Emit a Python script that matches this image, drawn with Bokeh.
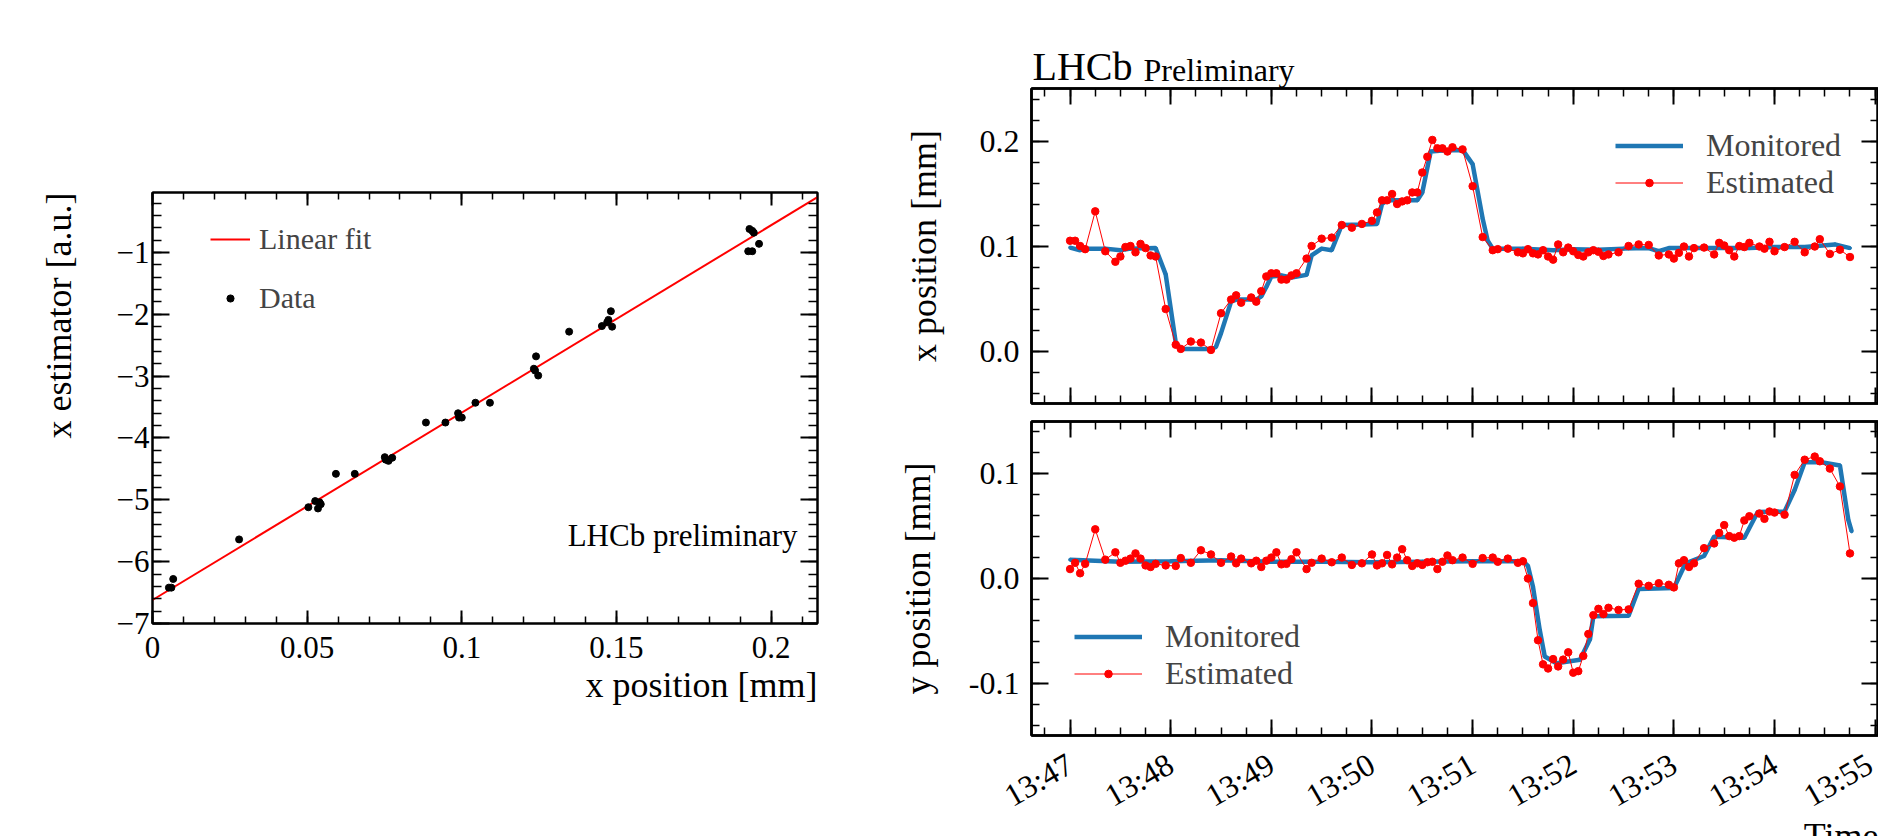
import math
import pandas as pd
from bokeh.plotting import figure
from bokeh.layouts import row, column
from bokeh.models import (Range1d, LinearAxis, FixedTicker, CustomJSTickFormatter,
                          Legend, LegendItem, Label, Title)
from bokeh.embed import file_html
from bokeh.resources import INLINE

FONT = "Liberation Serif"

# ---------------- left panel: calibration ----------------
calib_xpos = [0.0053, 0.0061, 0.0067, 0.028, 0.0504, 0.0526, 0.054, 0.0535, 0.0544,
              0.0593, 0.0654, 0.0751, 0.0754, 0.0763, 0.0775, 0.0884, 0.0947, 0.0988,
              0.0991, 0.100, 0.1044, 0.1091, 0.1233, 0.124, 0.1247, 0.1237, 0.1347,
              0.1453, 0.147, 0.1474, 0.1482, 0.1486, 0.193, 0.1939, 0.1944, 0.1926,
              0.1939, 0.1961]
calib_xest = [-6.42, -6.42, -6.28, -5.64, -5.12, -5.02, -5.04, -5.14, -5.07,
              -4.58, -4.58, -4.31, -4.35, -4.37, -4.32, -3.75, -3.75, -3.60,
              -3.67, -3.67, -3.43, -3.43, -2.88, -2.68, -2.99, -2.91, -2.28,
              -2.19, -2.13, -2.09, -1.95, -2.20, -0.62, -0.65, -0.68, -0.98,
              -0.98, -0.86]
fit_slope = 30.3
fit_intercept = -6.62
left_x_ticks = [0, 0.05, 0.1, 0.15, 0.2]
left_y_ticks = [-7, -6, -5, -4, -3, -2, -1]

# ---------------- right panels: time series ----------------
t0 = "2024-01-01 13:47:00"
time_tick_labels = ["13:47", "13:48", "13:49", "13:50", "13:51", "13:52", "13:53", "13:54", "13:55"]

# seconds after 13:47:00
est_t = [0, 3, 6, 9, 15, 21, 27, 30, 33, 36, 39, 42, 45, 48, 51, 57, 63, 66, 72, 78, 84, 90,
         96, 99, 102, 108, 111, 114, 117, 120, 123, 126, 129, 132, 135, 141, 144, 150,
         156, 162, 168, 174, 180, 183, 186, 189, 192, 195, 198, 201, 204, 207, 210, 213,
         216, 219, 222, 225, 228, 234, 240, 246, 252, 255, 261, 267, 270, 273, 276, 279,
         282, 285, 288, 291, 294, 297, 300, 303, 306,
         309, 312, 315, 318, 321, 327, 333, 339, 345, 351, 357, 360, 363, 366, 369, 372,
         378, 384, 387, 390, 393, 396, 399, 402, 405, 411, 414, 417, 420, 426, 432, 438,
         444, 447, 453, 459, 465]
est_x = [0.105, 0.105, 0.100, 0.097, 0.133, 0.095, 0.085, 0.090, 0.099, 0.100, 0.094, 0.102,
         0.098, 0.091, 0.090, 0.040, 0.006, 0.002, 0.009, 0.008, 0.001, 0.036, 0.049, 0.053,
         0.046, 0.051, 0.047, 0.057, 0.071, 0.074, 0.074, 0.068, 0.068, 0.072, 0.074, 0.088,
         0.100, 0.107,
         0.108, 0.120, 0.1175, 0.121, 0.124, 0.132, 0.1435, 0.1435, 0.1495, 0.140, 0.1425,
         0.1435, 0.151, 0.151, 0.170, 0.185, 0.201, 0.193, 0.193, 0.190, 0.194, 0.192, 0.157,
         0.1085, 0.096, 0.097, 0.0975, 0.094, 0.093, 0.097, 0.093, 0.092, 0.096, 0.090, 0.087,
         0.1015, 0.094, 0.0985, 0.095, 0.0915, 0.090,
         0.094, 0.096, 0.0945, 0.0905, 0.092, 0.094, 0.100, 0.1015, 0.101, 0.091, 0.092, 0.088,
         0.0935, 0.0995, 0.090, 0.098, 0.0985, 0.092, 0.103, 0.1005, 0.096, 0.090, 0.100, 0.099,
         0.103, 0.0995, 0.0975, 0.104, 0.095, 0.099, 0.104, 0.094, 0.0995, 0.1065, 0.0925,
         0.0965, 0.0895]
est_y = [0.009, 0.015, 0.005, 0.014, 0.047, 0.018, 0.025, 0.015, 0.017, 0.019, 0.024, 0.019,
         0.0125, 0.011, 0.014, 0.0125, 0.012, 0.0195, 0.015, 0.027, 0.023, 0.015, 0.021, 0.0145,
         0.019, 0.0145, 0.017, 0.011, 0.017, 0.020, 0.025, 0.0135, 0.014, 0.0185, 0.025, 0.009,
         0.015, 0.019,
         0.0155, 0.020, 0.013, 0.0145, 0.023, 0.0125, 0.0145, 0.0225, 0.0135, 0.020, 0.028,
         0.0175, 0.012, 0.0145, 0.013, 0.0155, 0.016, 0.009, 0.016, 0.022, 0.0175, 0.020, 0.014,
         0.0195, 0.020, 0.016, 0.019, 0.015, 0.0165, 0.000, -0.0235, -0.059, -0.082, -0.086,
         -0.077, -0.084, -0.0775, -0.0705, -0.090, -0.0885, -0.074,
         -0.053, -0.035, -0.029, -0.034, -0.028, -0.030, -0.0295, -0.005, -0.007, -0.0045,
         -0.006, -0.0085, 0.0145, 0.0175, 0.011, 0.0145, 0.029, 0.0335, 0.0435, 0.051, 0.0405,
         0.039, 0.0405, 0.0555, 0.0595, 0.062, 0.057, 0.064, 0.063, 0.061, 0.099, 0.1135,
         0.1165, 0.112, 0.105, 0.088, 0.024]

mon_x_t = [0, 6, 9, 21, 30, 36, 51, 57, 63, 66, 84, 87, 90, 96, 99, 111, 114, 117, 120, 126,
           132, 141, 144, 150, 156, 162, 174, 183, 186, 189, 207, 210, 215, 222, 234, 240,
           246, 249, 252, 270, 288, 300, 315, 330, 345, 351, 357, 375, 405, 420, 438, 456, 465]
mon_x = [0.0985, 0.096, 0.0975, 0.0975, 0.096, 0.0975, 0.098, 0.073, 0.008, 0.002,
         0.002, 0.004, 0.017, 0.047, 0.049, 0.049, 0.052, 0.061, 0.071, 0.072,
         0.070, 0.0725, 0.091, 0.0975, 0.096, 0.120, 0.1205, 0.121, 0.140, 0.1435,
         0.1435, 0.151, 0.190, 0.191, 0.1915, 0.178, 0.126, 0.105, 0.0975, 0.0975,
         0.096, 0.097, 0.0965, 0.0975, 0.098, 0.095, 0.098, 0.098, 0.098, 0.099,
         0.099, 0.1015, 0.098]
mon_y_t = [0, 30, 60, 90, 120, 150, 180, 210, 240, 270, 273, 276, 280, 283, 290, 304, 310,
           312, 333, 339, 360, 367, 378, 384, 402, 410, 426, 432, 438, 448, 459, 464, 466]
mon_y = [0.018, 0.016, 0.0165, 0.0175, 0.016, 0.016, 0.0155, 0.016, 0.0165, 0.0165,
         0.012, -0.008, -0.049, -0.0745, -0.081, -0.0776, -0.058, -0.036, -0.0355, -0.010,
         -0.009, 0.0145, 0.0215, 0.040, 0.039, 0.0635, 0.064, 0.0845, 0.111, 0.111,
         0.108, 0.056, 0.045]

BLUE = "#1f77b4"
RED = "#ff0000"


def style_axis(ax, major_in, minor_in, fs="32px", hide=False, lw=2, standoff=5):
    ax.major_tick_in = major_in
    ax.major_tick_out = 0
    ax.minor_tick_in = minor_in
    ax.minor_tick_out = 0
    ax.axis_line_width = lw
    ax.axis_line_color = "black"
    ax.major_tick_line_width = 2
    ax.minor_tick_line_width = 1.5
    ax.major_tick_line_color = "black"
    ax.minor_tick_line_color = "black"
    ax.major_label_text_font = FONT
    ax.major_label_text_font_size = fs
    ax.major_label_text_color = "black"
    ax.major_label_standoff = standoff
    if hide:
        ax.formatter = CustomJSTickFormatter(code="return ''")
        ax.major_label_text_font_size = "0px"
        ax.major_label_standoff = 0


def title(text, align, size="36px", standoff=10, offset=0):
    return Title(text=text, align=align, text_font=FONT, text_font_size=size,
                 text_font_style="normal", text_color="black", standoff=standoff,
                 offset=offset)


LEFT_W = 868
RIGHT_W = 1878 - LEFT_W
RIGHT_BORDER = 1027 - LEFT_W

# ---------------- left figure ----------------
xr_l = Range1d(0, 0.215)
yr_l = Range1d(-7, -0.03)
p1 = figure(width=LEFT_W, height=836, output_backend="svg", toolbar_location=None,
            x_range=xr_l, y_range=yr_l,
            min_border_left=152, min_border_right=LEFT_W - 817, min_border_top=192,
            min_border_bottom=213)
p1.grid.visible = False
p1.outline_line_color = "black"
p1.outline_line_width = 2

lx_minor = [i * 0.01 for i in range(0, 22)]
ly_minor = [-7 + i * 0.2 for i in range(0, 35)]
p1.xaxis[0].ticker = FixedTicker(ticks=left_x_ticks, minor_ticks=lx_minor)
p1.yaxis[0].ticker = FixedTicker(ticks=left_y_ticks, minor_ticks=ly_minor)
p1.xaxis[0].formatter = CustomJSTickFormatter(code="return String(Math.round(tick*1000)/1000)")
p1.yaxis[0].formatter = CustomJSTickFormatter(
    code="return tick < 0 ? '\u2212' + String(Math.round(-tick*100)/100) : String(tick)")
style_axis(p1.xaxis[0], 13, 7, fs="31px", standoff=13)
style_axis(p1.yaxis[0], 17, 9, fs="31px", standoff=3)
ax_top = LinearAxis(ticker=FixedTicker(ticks=left_x_ticks, minor_ticks=lx_minor))
style_axis(ax_top, 13, 7, hide=True)
p1.add_layout(ax_top, "above")
ax_right = LinearAxis(ticker=FixedTicker(ticks=left_y_ticks, minor_ticks=ly_minor))
style_axis(ax_right, 17, 9, hide=True)
p1.add_layout(ax_right, "right")

fit_x = [xr_l.start, xr_l.end]
fit_y = [fit_intercept + fit_slope * v for v in fit_x]
r_fit = p1.line(fit_x, fit_y, line_color=RED, line_width=2)
r_dat = p1.scatter(calib_xpos, calib_xest, size=7, color="black")

leg1 = Legend(items=[LegendItem(label="Linear fit", renderers=[r_fit]),
                     LegendItem(label="Data", renderers=[r_dat])],
              location=(58, 308), orientation="vertical", padding=0, margin=0, spacing=25,
              glyph_width=40, glyph_height=18, label_height=18, label_standoff=9,
              label_text_font=FONT, label_text_font_size="30px",
              border_line_alpha=0, background_fill_alpha=0)
p1.add_layout(leg1)

p1.add_layout(Label(x=xr_l.end, y=yr_l.start, x_offset=-20, y_offset=88, text="LHCb preliminary",
                    text_align="right", text_baseline="middle", text_font=FONT,
                    text_font_size="31px", text_color="black"))
p1.add_layout(title("x position [mm]", "right", standoff=4), "below")
p1.add_layout(title("x estimator [a.u.]", "right", standoff=70), "left")

# ---------------- right figures ----------------
base_ms = pd.Timestamp(t0).value // 10**6
day = t0.split(" ")[0]
major_ms = [pd.Timestamp(day + " " + lab).value // 10**6 for lab in time_tick_labels]
minor_ms = [base_ms + k * 15000 for k in range(-1, 33)]
xr_r = Range1d(base_ms - 23000, base_ms + 482000)

est_ms = [base_ms + s * 1000 for s in est_t]
monx_ms = [base_ms + s * 1000 for s in mon_x_t]
mony_ms = [base_ms + s * 1000 for s in mon_y_t]

time_fmt = ("const d = new Date(tick); return String(d.getUTCHours()).padStart(2,'0') + ':' + "
            "String(d.getUTCMinutes()).padStart(2,'0');")


def right_fig(height, top, bottom, yr, ymajor, yminor, show_time):
    p = figure(width=RIGHT_W, height=height, output_backend="svg", toolbar_location=None,
               x_range=xr_r, y_range=Range1d(*yr),
               min_border_left=RIGHT_BORDER, min_border_right=0, min_border_top=top,
               min_border_bottom=bottom)
    p.grid.visible = False
    p.outline_line_color = "black"
    p.outline_line_width = 2.5
    p.xaxis[0].ticker = FixedTicker(ticks=major_ms, minor_ticks=minor_ms)
    p.yaxis[0].ticker = FixedTicker(ticks=ymajor, minor_ticks=yminor)
    p.yaxis[0].formatter = CustomJSTickFormatter(code="return tick.toFixed(1)")
    style_axis(p.yaxis[0], 17, 8, lw=2.5, standoff=12)
    if show_time:
        p.xaxis[0].formatter = CustomJSTickFormatter(code=time_fmt)
        p.xaxis[0].major_label_orientation = math.radians(30)
        style_axis(p.xaxis[0], 16, 8, lw=2.5, standoff=26)
    else:
        style_axis(p.xaxis[0], 16, 8, hide=True, lw=2.5)
    a_top = LinearAxis(ticker=FixedTicker(ticks=major_ms, minor_ticks=minor_ms))
    style_axis(a_top, 16, 8, hide=True, lw=2.5)
    p.add_layout(a_top, "above")
    a_right = LinearAxis(ticker=FixedTicker(ticks=ymajor, minor_ticks=yminor))
    style_axis(a_right, 17, 8, hide=True, lw=2.5)
    p.add_layout(a_right, "right")
    return p


def add_series(p, mt, mv, ev, leg_loc):
    ml = p.line(mt, mv, line_color=BLUE, line_width=4.5)
    p.scatter(mt, mv, size=3, color=BLUE)
    el = p.line(est_ms, ev, line_color=RED, line_width=1)
    ed = p.scatter(est_ms, ev, size=7.5, color=RED)
    leg = Legend(items=[LegendItem(label="Monitored", renderers=[ml]),
                        LegendItem(label="Estimated", renderers=[el, ed])],
                 location=leg_loc, orientation="vertical", padding=0, margin=0, spacing=-4,
                 glyph_width=68, glyph_height=19, label_height=19, label_standoff=23,
                 label_text_font=FONT, label_text_font_size="32px",
                 border_line_alpha=0, background_fill_alpha=0)
    p.add_layout(leg)


p2 = right_fig(412, 88, 9, (-0.05, 0.25), [0.0, 0.1, 0.2],
               [-0.04 + 0.02 * i for i in range(15)], False)
add_series(p2, monx_ms, mon_x, est_x, (584, 202))
p2.add_layout(title("x position [mm]", "center", standoff=66), "left")
# "LHCb Preliminary" tag: two titles sharing one baseline above the upper panel
p2.add_layout(title("LHCb", "left", size="40px", standoff=0, offset=1), "above")
p2.add_layout(title("Preliminary", "left", size="32px", standoff=-92, offset=112), "above")

p3 = right_fig(424, 9, 100, (-0.15, 0.15), [-0.1, 0.0, 0.1],
               [-0.14 + 0.02 * i for i in range(15)], True)
add_series(p3, mony_ms, mon_y, est_y, (43, 43))
p3.add_layout(title("y position [mm]", "center", standoff=55), "left")
p3.add_layout(title("Time", "right", standoff=-38), "below")

layout = row(p1, column(p2, p3, spacing=0), spacing=0)
open("out.html", "w").write(file_html(layout, INLINE))
